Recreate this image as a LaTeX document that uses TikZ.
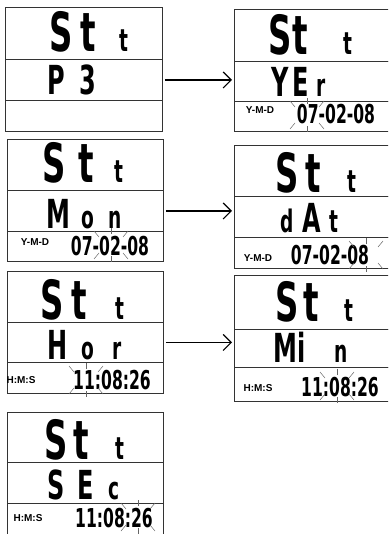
\documentclass[tikz,border=0pt]{standalone}
\usepackage{fontspec}
\newfontfamily\segfont[FakeStretch=0.6]{DejaVu Sans Bold}
\newfontfamily\tagfont{Liberation Sans Bold}
\usetikzlibrary{arrows.meta}
\tikzset{
  row/.style={draw=black!80, line width=0.9pt, anchor=north west, inner sep=0pt},
  lrow/.style={row, minimum width=157pt},
  rrow/.style={row, minimum width=160pt},
  segbig/.style={font=\segfont\fontsize{54}{54}\selectfont, inner sep=0pt, anchor=base,
                 text height=39pt, text depth=0pt},
  segmid/.style={font=\segfont\fontsize{40}{40}\selectfont, inner sep=0pt, anchor=base,
                 text height=29pt, text depth=0pt},
  seglow/.style={font=\segfont\fontsize{31}{31}\selectfont, inner sep=0pt, anchor=base,
                 text height=17pt, text depth=0pt},
  digits/.style={font=\segfont\fontsize{26}{26}\selectfont, inner sep=0pt, anchor=base,
                 text height=19pt, text depth=0pt},
  tag/.style={font=\tagfont\fontsize{10}{10}\selectfont, inner sep=0pt, anchor=base,
              text height=7pt, text depth=0pt},
  fwd/.style={-{Straight Barb[length=8pt,width=16pt]}, line width=1.2pt, shorten <=2pt, shorten >=2pt},
  ray/.style={draw=black!60, line width=0.5pt},
  flash/.pic={
    \draw[ray] (0,-11) -- (0,-17);
    \draw[ray] (0,11) -- (0,17);
    \draw[ray] (-12,-8) -- (-17,-14);
    \draw[ray] (12,-8) -- (17,-14);
    \draw[ray] (-12,8) -- (-17,14);
    \draw[ray] (12,8) -- (17,14);
  },
}

\begin{document}
\begin{tikzpicture}[x=1pt, y=-1pt]
  \useasboundingbox (0,0) rectangle (388,534);
  \clip (0,0) rectangle (388,534);

  % left column
  \node[lrow, minimum height=52pt] (p3top) at (5,7) {};
  \node[lrow, minimum height=41pt] (p3mid) at (5,59) {};
  \node[lrow, minimum height=31pt] (p3bot) at (5,100) {};

  \node[lrow, minimum width=156pt, minimum height=51pt] (montop) at (7,139) {};
  \node[lrow, minimum width=156pt, minimum height=41pt] (monmid) at (7,190) {};
  \node[lrow, minimum width=156pt, minimum height=30pt] (monbot) at (7,231) {};

  \node[lrow, minimum width=156pt, minimum height=51pt] (hortop) at (7,271) {};
  \node[lrow, minimum width=156pt, minimum height=40pt] (hormid) at (7,322) {};
  \node[lrow, minimum width=156pt, minimum height=31pt] (horbot) at (7,362) {};

  \node[lrow, minimum width=156pt, minimum height=50pt] (sectop) at (7,412) {};
  \node[lrow, minimum width=156pt, minimum height=41pt] (secmid) at (7,462) {};
  \node[lrow, minimum width=156pt, minimum height=40pt] (secbot) at (7,503) {};

  % right column
  \node[rrow, minimum height=52pt] (yertop) at (234,9) {};
  \node[rrow, minimum height=40pt] (yermid) at (234,61) {};
  \node[rrow, minimum height=30pt] (yerbot) at (234,101) {};

  \node[rrow, minimum height=51pt] (dattop) at (234,145) {};
  \node[rrow, minimum height=41pt] (datmid) at (234,196) {};
  \node[rrow, minimum height=31pt] (datbot) at (234,237) {};

  \node[rrow, minimum height=54pt] (mintop) at (234,275) {};
  \node[rrow, minimum height=38pt] (minmid) at (234,329) {};
  \node[rrow, minimum height=34pt] (minbot) at (234,367) {};

  % arrows
  \draw[fwd] (p3mid.east) -- (p3mid.east -| yermid.west);
  \draw[fwd] (monmid.east) -- (monmid.east -| datmid.west);
  \draw[fwd] (hormid.east) -- (hormid.east -| minmid.west);

  % top rows
  \foreach \x/\y in {61/52, 54/183, 52/319, 56/459, 280/55, 287/193, 287/321}
    \node[segbig] at (\x,\y) {S};
  \foreach \x/\y in {88/52, 86/183, 79/319, 81/459, 300/55, 313/193, 311/321}
    \node[segbig] at (\x,\y) {t};
  \foreach \x/\y in {124/52, 119/183, 120/319, 120/459, 348/55, 352/193, 349/321}
    \node[seglow] at (\x,\y) {t};

  % middle rows
  \node[segmid] at (56,95) {P};
  \node[segmid] at (88,95) {3};
  \node[segmid] at (280,97) {Y};
  \node[segmid] at (301,97) {E};
  \node[seglow] at (321,97) {r};
  \node[segmid] at (58,229) {M};
  \node[seglow] at (88,229) {o};
  \node[seglow] at (115,229) {n};
  \node[seglow] at (287,233) {d};
  \node[segmid] at (312,233) {A};
  \node[seglow] at (334,233) {t};
  \node[segmid] at (58,359) {H};
  \node[seglow] at (88,359) {o};
  \node[seglow] at (117,359) {r};
  \node[segmid] at (285,362) {M};
  \node[segmid] at (302,362) {i};
  \node[seglow] at (341,362) {n};
  \node[segmid] at (56,499) {S};
  \node[segmid] at (86,499) {E};
  \node[seglow] at (114,499) {c};

  % bottom rows
  \node[tag] at (260,114) {Y-M-D};
  \node[digits] at (336,124) {07-02-08};
  \node[tag] at (35,245) {Y-M-D};
  \node[digits] at (110,255) {07-02-08};
  \node[tag] at (258,261) {Y-M-D};
  \node[digits] at (330,264) {07-02-08};
  \node[tag] at (21,383) {H:M:S};
  \node[digits] at (112,389) {11:08:26};
  \node[tag] at (258,391) {H:M:S};
  \node[digits] at (340,396) {11:08:26};
  \node[tag] at (28,521) {H:M:S};
  \node[digits] at (114,527) {11:08:26};

  % blinking digits
  \pic at (307,115) {flash};
  \pic at (111,245) {flash};
  \pic at (366,255) {flash};
  \pic at (86,380) {flash};
  \pic at (337,386) {flash};
  \pic at (138,517) {flash};
\end{tikzpicture}
\end{document}
